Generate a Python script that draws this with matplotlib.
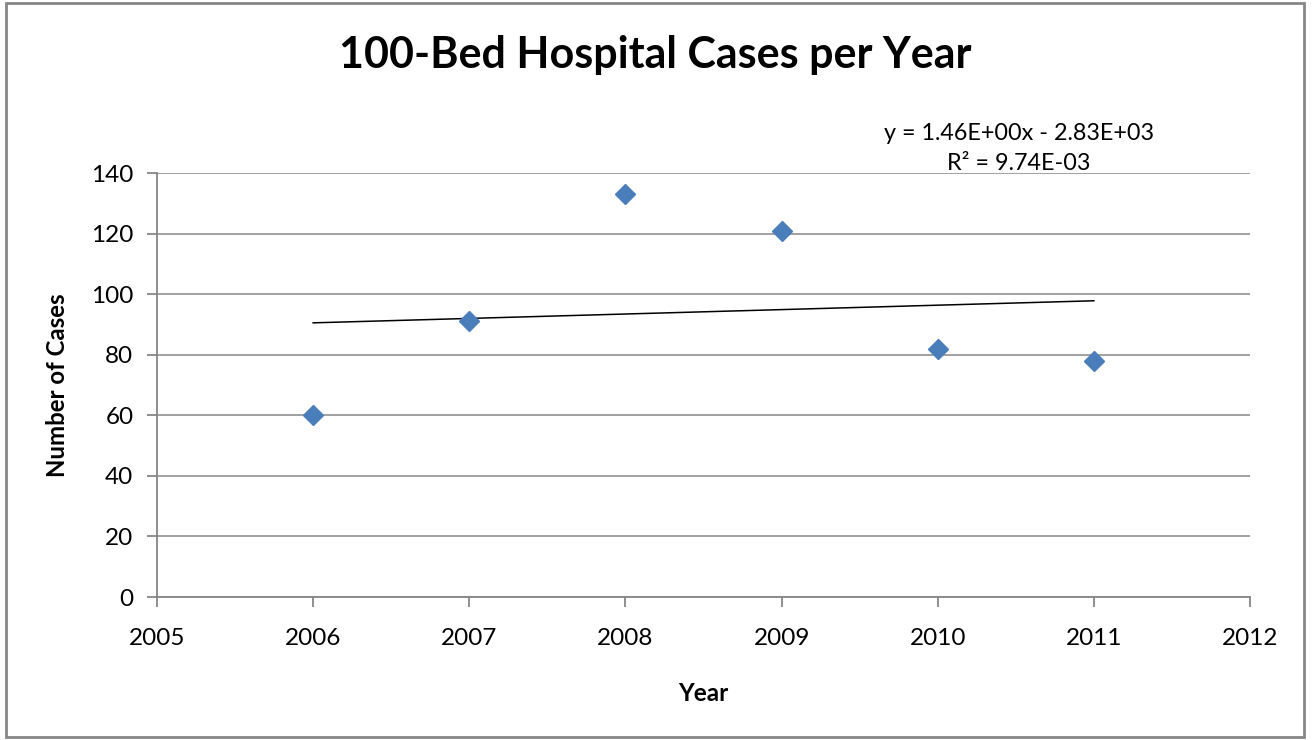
import numpy as np
import matplotlib
matplotlib.use("Agg")
import matplotlib.pyplot as plt
from matplotlib.patches import Rectangle

years = [2006, 2007, 2008, 2009, 2010, 2011]
cases = [60, 91, 133, 121, 82, 78]
x_ticks = [2005, 2006, 2007, 2008, 2009, 2010, 2011, 2012]
y_ticks = [0, 20, 40, 60, 80, 100, 120, 140]

plt.rcParams['font.family'] = ['Lato', 'DejaVu Sans']

fig = plt.figure(figsize=(13.14, 7.4), dpi=100)
fig.patch.set_facecolor('white')
fig.patches.append(Rectangle((6/1314, 3/740), 1298/1314, 734/740, transform=fig.transFigure,
                             fill=False, edgecolor='#868686', linewidth=2))

ax = fig.add_axes([157/1314, 1 - 597/740, (1250 - 157)/1314, (597 - 173)/740])
grid_c = '#868686'
for s in ['top', 'right']:
    ax.spines[s].set_visible(False)
for s in ['left', 'bottom']:
    ax.spines[s].set_color(grid_c)
    ax.spines[s].set_linewidth(1.3)

ax.set_xlim(2005, 2012)
ax.set_ylim(0, 140)
ax.set_xticks(x_ticks)
ax.set_yticks(y_ticks)
ax.yaxis.grid(True, color=grid_c, linewidth=1.1)
ax.set_axisbelow(True)
ax.tick_params(axis='both', colors=grid_c, labelcolor='black', labelsize=17.5, length=7, width=1.3)
ax.tick_params(axis='y', pad=10)
ax.tick_params(axis='x', pad=15)

slope, intercept = np.polyfit(years, cases, 1)
xs = np.array([years[0], years[-1]])
ax.plot(xs, slope * xs + intercept, color='black', linewidth=1.1, zorder=2)

ax.plot(years, cases, linestyle='none', marker='D', markersize=10.5,
        color='#4a7ebb', markeredgecolor='#4a7ebb', zorder=3, clip_on=False)

fig.text(1019/1314, 1 - 133/740, "y = 1.46E+00x - 2.83E+03", ha='center', va='center', fontsize=16.8)
fig.text(1019/1314, 1 - 163/740, "R² = 9.74E-03", ha='center', va='center', fontsize=16.8)

fig.text(655/1314, 1 - 55/740, "100-Bed Hospital Cases per Year", ha='center', va='center',
         fontsize=31, fontweight='bold')
ax.set_xlabel("Year", fontsize=17.5, fontweight='bold', labelpad=24)
ax.set_ylabel("Number of Cases", fontsize=17.3, fontweight='bold', labelpad=16)

fig.savefig("out.png", dpi=100, facecolor='white')
